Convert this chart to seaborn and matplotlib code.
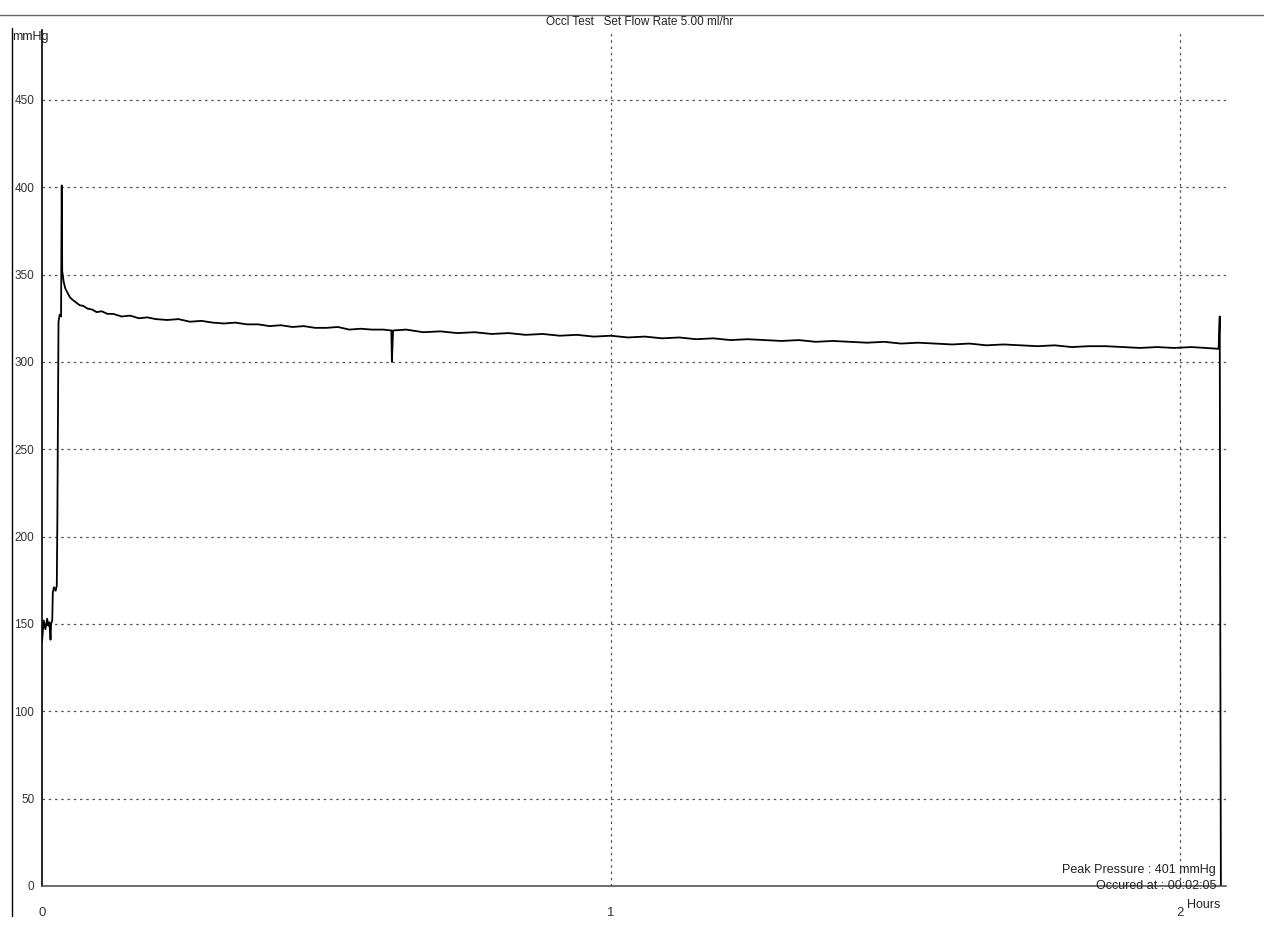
import matplotlib
matplotlib.use('Agg')
import matplotlib.pyplot as plt
from matplotlib.lines import Line2D
import seaborn as sns
import pandas as pd

# occlusion test trace (time in hours, pressure in mmHg)
hours = [0.000, 0.003, 0.006, 0.009, 0.011, 0.013, 0.015, 0.016, 0.018,
         0.019, 0.021, 0.024, 0.026, 0.027, 0.029, 0.031, 0.0335, 0.0347,
         0.0355, 0.038, 0.041, 0.045, 0.049, 0.054, 0.060, 0.066, 0.073,
         0.080, 0.088, 0.096, 0.105, 0.115, 0.125, 0.14, 0.155, 0.17, 0.185,
         0.20, 0.22, 0.24, 0.26, 0.28, 0.30, 0.32, 0.34, 0.36, 0.38, 0.40,
         0.42, 0.44, 0.46, 0.48, 0.50, 0.52, 0.54, 0.56, 0.58, 0.60, 0.614,
         0.615, 0.617, 0.64, 0.67, 0.70, 0.73, 0.76, 0.79, 0.82, 0.85, 0.88,
         0.91, 0.94, 0.97, 1.00, 1.03, 1.06, 1.09, 1.12, 1.15, 1.18, 1.21,
         1.24, 1.27, 1.30, 1.33, 1.36, 1.39, 1.42, 1.45, 1.48, 1.51, 1.54,
         1.57, 1.60, 1.63, 1.66, 1.69, 1.72, 1.75, 1.78, 1.81, 1.84, 1.87,
         1.90, 1.93, 1.96, 1.99, 2.02, 2.045, 2.068, 2.070, 2.071, 2.072]
pressure = [140, 152, 147, 153, 149, 151, 141, 150, 152,
            168, 171, 169, 172, 210, 323, 327, 326, 401,
            352, 346, 342, 339.5, 337, 335.5, 334, 332.5, 332,
            330.5, 330, 328.5, 329, 327.5, 327.5, 326, 326.5, 325, 325.5,
            324.5, 324, 324.5, 323, 323.5, 322.5, 322, 322.5, 321.5, 321.5, 320.5,
            321, 320, 320.5, 319.5, 319.5, 320, 318.5, 319, 318.5, 318.5, 318,
            300, 318, 318.5, 317, 317.5, 316.5, 317, 316, 316.5, 315.5, 316,
            315, 315.5, 314.5, 315, 314, 314.5, 313.5, 314, 313, 313.5, 312.5,
            313, 312.5, 312, 312.5, 311.5, 312, 311.5, 311, 311.5, 310.5, 311,
            310.5, 310, 310.5, 309.5, 310, 309.5, 309, 309.5, 308.5, 309, 309,
            308.5, 308, 308.5, 308, 308.5, 308, 307.5, 326, 140, 0]

y_ticks = [0, 50, 100, 150, 200, 250, 300, 350, 400, 450]
x_ticks = [0, 1, 2]

df = pd.DataFrame({'hours': hours, 'pressure': pressure})

sns.set_style('white')
plt.rcParams['font.family'] = ['Liberation Sans', 'DejaVu Sans']

fig = plt.figure(figsize=(12.64, 9.31), dpi=100)
ax = fig.add_axes([42 / 1264, 45 / 931, (1226 - 42) / 1264, (886 - 30) / 931])

sns.lineplot(data=df, x='hours', y='pressure', ax=ax, color='black',
             linewidth=1.3, estimator=None, sort=False)

ax.set_xlim(0, 2.081)
ax.set_ylim(0, 490)
ax.set_yticks(y_ticks)
ax.set_xticks(x_ticks)
ax.set_xlabel('')
ax.set_ylabel('')
ax.tick_params(axis='y', labelsize=8.5, length=3.5, width=0.8, color='black',
               labelcolor='#333333', direction='out', pad=2)
ax.tick_params(axis='x', labelsize=9.5, length=5, width=0.8, color='black',
               labelcolor='#333333', direction='out', pad=10)

# dotted grid like the printout
for y in y_ticks[1:]:
    ax.axhline(y, color='#555555', linestyle=(0, (2, 3)), linewidth=0.9, zorder=0)
for x in x_ticks[1:]:
    ax.axvline(x, color='#555555', linestyle=(0, (2, 3)), linewidth=0.9, zorder=0)

for side in ['top', 'right']:
    ax.spines[side].set_visible(False)
ax.spines['left'].set_color('black')
ax.spines['left'].set_linewidth(1.2)
ax.spines['bottom'].set_color('#555555')
ax.spines['bottom'].set_linewidth(1.2)

fig.text(640 / 1264, 1 - 22 / 931, 'Occl Test   Set Flow Rate 5.00 ml/hr',
         ha='center', va='center', fontsize=8.5, color='#222222')
fig.text(12 / 1264, 1 - 37 / 931, 'mmHg', ha='left', va='center',
         fontsize=9, color='#222222')
fig.text(1220 / 1264, 1 - 905 / 931, 'Hours', ha='right', va='center',
         fontsize=9, color='#222222')
fig.text(1216 / 1264, 1 - 870 / 931, 'Peak Pressure : 401 mmHg', ha='right',
         va='center', fontsize=9, color='#222222')
fig.text(1216 / 1264, 1 - 886 / 931, 'Occured at : 00:02:05', ha='right',
         va='center', fontsize=9, color='#222222')

# outer frame of the printout
fig.add_artist(Line2D([0, 1], [1 - 15 / 931, 1 - 15 / 931], color='#666666',
                      linewidth=1.0, transform=fig.transFigure))
fig.add_artist(Line2D([12 / 1264, 12 / 1264], [1 - 28 / 931, 1 - 916 / 931],
                      color='black', linewidth=1.0, transform=fig.transFigure))

fig.savefig('out.png', dpi=100)
